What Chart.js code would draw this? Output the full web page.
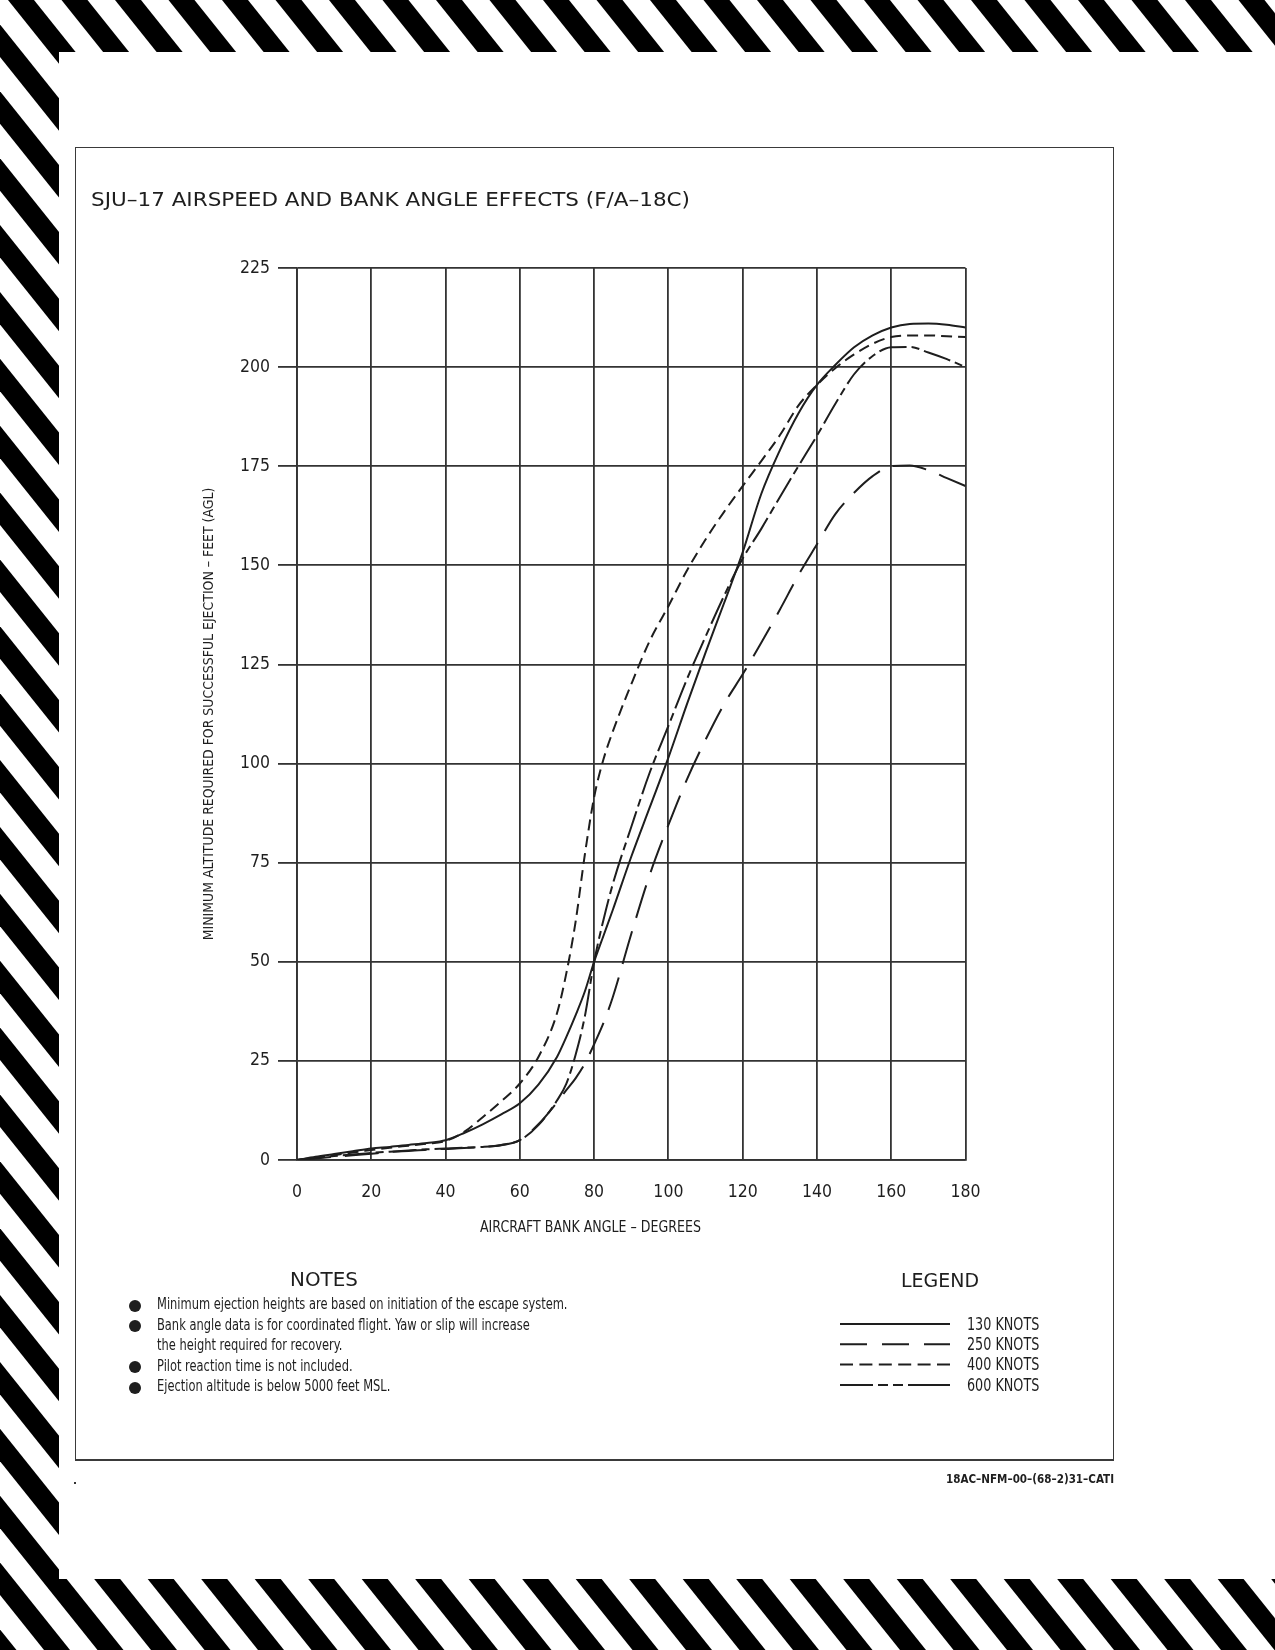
<!DOCTYPE html>
<html>
<head>
<meta charset="utf-8">
<script src="https://cdn.jsdelivr.net/npm/chart.js@4.4.1/dist/chart.umd.min.js"></script>
<style>
  html, body { margin:0; padding:0; background:#fff; }
  body { width:1275px; height:1650px; position:relative; overflow:hidden; }
  #bg { position:absolute; left:0; top:0; }
  #box { position:absolute; left:75px; top:147px; width:1039px; height:1314px; box-sizing:border-box;
         border:1.5px solid #3a3a3a; border-bottom-width:2.5px; }
  .t { position:absolute; white-space:nowrap; color:#1e1e1e; line-height:1; transform-origin:0 0; }
  #chart { position:absolute; left:180px; top:240px; }
  .bullet { position:absolute; width:12px; height:12px; border-radius:50%; background:#1e1e1e; }
  #legendSvg { position:absolute; left:0; top:0; }
</style>
</head>
<body>
<canvas id="bg" width="1275" height="1650"></canvas>
<div id="box"></div>

<div class="t" id="title" style="left:91px; top:190px; font-family:'DejaVu Sans',sans-serif; font-size:19px;">SJU–17 AIRSPEED AND BANK ANGLE EFFECTS (F/A–18C)</div>

<canvas id="chart" width="835" height="1010"></canvas>
<div class="t" id="xTitle" style="left:480px; top:1220px; font-size:15.5px;"></div>

<div class="t" id="notesHead" style="left:290px; top:1270px; font-family:'DejaVu Sans',sans-serif; font-size:19.5px;">NOTES</div>
<div class="t note" style="left:157px; top:1296px;">Minimum ejection heights are based on initiation of the escape system.</div>
<div class="t note" style="left:157px; top:1316.5px;">Bank angle data is for coordinated flight. Yaw or slip will increase</div>
<div class="t note" style="left:157px; top:1337px;">the height required for recovery.</div>
<div class="t note" style="left:157px; top:1357.5px;">Pilot reaction time is not included.</div>
<div class="t note" style="left:157px; top:1378px;">Ejection altitude is below 5000 feet MSL.</div>
<div class="bullet" style="left:129px; top:1299.5px;"></div>
<div class="bullet" style="left:129px; top:1320px;"></div>
<div class="bullet" style="left:129px; top:1361px;"></div>
<div class="bullet" style="left:129px; top:1381.5px;"></div>

<div class="t" id="legendHead" style="left:901px; top:1271px; font-family:'DejaVu Sans',sans-serif; font-size:19.5px;">LEGEND</div>
<svg id="legendSvg" width="1275" height="1650"></svg>
<div id="legendLabels"></div>

<div class="t" id="footer" style="left:946px; top:1472px; font-weight:bold; font-size:13px;">18AC–NFM–00–(68–2)31–CATI</div>
<div style="position:absolute; left:74px; top:1482px; width:2px; height:2px; background:#333;"></div>

<script>
// ---------------- DATA ----------------
const angles   = [0,5,10,15,20,25,30,35,40,45,50,55,60,65,70,72.5,75,77.5,80,82.5,85,90,95,100,105,110,115,120,125,130,135,140,145,150,155,160,165,170,175,180];
const knots130 = [0,0.8,1.5,2.2,2.9,3.3,3.8,4.3,5.0,6.8,9.0,11.5,14.3,19,26,31,36.5,42.5,50,56.5,63,76.5,89,101.5,115,128,140.5,153.3,168,179,188.3,195.5,200.6,205,208,210,210.9,211,210.7,210];
const knots250 = [0,0.4,0.8,1.2,1.6,2.0,2.3,2.6,2.8,3.0,3.3,3.7,5.0,9,14.5,17.6,20.6,24.3,29.2,34.5,41,57,72,84.5,96,106,115,122.5,130.5,138.8,147.5,155.3,163,168.3,172.5,175,175.2,174,172,170];
const knots400 = [0,0.6,1.2,1.9,2.5,3.1,3.6,4.1,4.8,7.1,10.8,14.8,19.3,26,37,47,60,77,91.5,101,108,120,131,139.7,148.7,156.5,163.5,170,176.3,182.8,190.3,195.5,199.8,203.2,205.9,207.6,208,208,207.8,207.6];
const knots600 = [0,0.5,1.0,1.4,1.8,2.1,2.4,2.7,2.9,3.1,3.3,3.8,5.0,8.8,15,19.2,26.5,36.2,50,60.5,69.5,84,97.8,109.5,121.3,132,142.3,151.7,159.2,167.2,175,182.7,190.8,198.2,202.8,205,205.1,203.7,202,200];
const seriesLabels = ['130 KNOTS','250 KNOTS','400 KNOTS','600 KNOTS'];
const xTickValues = [0,20,40,60,80,100,120,140,160,180];
const yTickValues = [0,25,50,75,100,125,150,175,200,225];
const xTitle = 'AIRCRAFT BANK ANGLE – DEGREES';
const yTitle = 'MINIMUM ALTITUDE REQUIRED FOR SUCCESSFUL EJECTION – FEET (AGL)';

// ---------------- STYLE ----------------
const INK = '#1e1e1e';
const chartDashes  = [[], [34,14], [11,6], [28,5,8,5]];
const legendDashes = ['', '27 15', '13 6.4', '33 5 10 5 10 5 42 0'];

function fontAvailable(name){
  const c = document.createElement('canvas').getContext('2d');
  const s = 'abcdefghijklmnopqrstuvwxyz0123456789MWKNOTS';
  let diff = false;
  for (const base of ['monospace','serif']) {
    c.font = '40px ' + base; const a = c.measureText(s).width;
    c.font = '40px "' + name + '", ' + base; const b = c.measureText(s).width;
    if (a !== b) diff = true;
  }
  return diff;
}
const narrow = ['Liberation Sans Narrow','DejaVu Sans Condensed','Arial Narrow','Roboto Condensed'].find(fontAvailable) || 'Liberation Sans';
const FAM = '"' + narrow + '", "Liberation Sans", sans-serif';

function sizeFor(text, target, weight){
  const c = document.createElement('canvas').getContext('2d');
  c.font = (weight||'normal') + ' 100px ' + FAM;
  return 100 * target / c.measureText(text).width;
}

// ---------------- BACKGROUND STRIPES ----------------
(function(){
  const g = document.getElementById('bg').getContext('2d');
  g.fillStyle = '#fff'; g.fillRect(0,0,1275,1650);
  g.fillStyle = '#000';
  const slope = 0.8, period = 53.5, bw = 26, yRef = 1580, xRef = 95;
  for (let k = -8; k < 60; k++) {
    const xa = xRef + k*period;
    const xt = xa + slope*(0 - yRef), xb = xa + slope*(1650 - yRef);
    g.beginPath(); g.moveTo(xt,0); g.lineTo(xt+bw,0); g.lineTo(xb+bw,1650); g.lineTo(xb,1650); g.closePath(); g.fill();
  }
  g.fillStyle = '#fff'; g.fillRect(59,52,1275-59,1579-52);
})();

// ---------------- TEXT FITTING ----------------
document.querySelectorAll('.note').forEach(e => { e.style.fontFamily = FAM; e.style.fontSize = '16.5px'; });
document.getElementById('footer').style.fontFamily = FAM;
const xt = document.getElementById('xTitle');
xt.textContent = xTitle; xt.style.fontFamily = FAM;
function fit(el, target){ const w = el.getBoundingClientRect().width; el.style.transform = 'scaleX(' + (target/w) + ')'; return target/w; }
fit(document.getElementById('title'), 599);
fit(document.getElementById('notesHead'), 68);
fit(document.getElementById('legendHead'), 78);
fit(document.getElementById('footer'), 168);
fit(xt, 221);
const notes = document.querySelectorAll('.note');
const nf = notes[0].getBoundingClientRect().width;
notes.forEach(e => { e.style.transform = 'scaleX(' + (410.5/nf) + ')'; });

// ---------------- LEGEND ----------------
(function(){
  const svg = document.getElementById('legendSvg');
  const ys = [1324, 1344.3, 1364.6, 1385];
  const holder = document.getElementById('legendLabels');
  let factor = null;
  seriesLabels.forEach((lab, i) => {
    const ln = document.createElementNS('http://www.w3.org/2000/svg','line');
    ln.setAttribute('x1', 840); ln.setAttribute('x2', 950);
    ln.setAttribute('y1', ys[i]); ln.setAttribute('y2', ys[i]);
    ln.setAttribute('stroke', INK); ln.setAttribute('stroke-width', 2);
    if (legendDashes[i]) ln.setAttribute('stroke-dasharray', legendDashes[i]);
    svg.appendChild(ln);
    const d = document.createElement('div');
    d.className = 't'; d.textContent = lab;
    d.style.left = '966.7px'; d.style.top = (ys[i] - 8.3) + 'px';
    d.style.fontFamily = FAM; d.style.fontSize = '17px';
    holder.appendChild(d);
    if (factor === null) factor = 72.3 / d.getBoundingClientRect().width;
    d.style.transform = 'scaleX(' + factor + ')';
  });
})();

// ---------------- CHART ----------------
const tickSize = 17.5;
const yTitleSize = sizeFor(yTitle, 453);

const seriesValues = [knots130, knots250, knots400, knots600];
const datasets = seriesValues.map((vals, i) => ({
  label: seriesLabels[i],
  data: angles.map((a, j) => ({x: a, y: vals[j]})),
  borderColor: INK,
  borderWidth: 2,
  borderDash: chartDashes[i],
  borderCapStyle: 'butt',
  pointRadius: 0,
  fill: false,
  cubicInterpolationMode: 'monotone'
}));

new Chart(document.getElementById('chart'), {
  type: 'line',
  data: { datasets },
  options: {
    responsive: false,
    animation: false,
    events: [],
    layout: { padding: { top: 28, right: 49.5, bottom: 0, left: 0 } },
    plugins: { legend: { display: false }, tooltip: { enabled: false }, title: { display: false } },
    scales: {
      x: {
        type: 'linear',
        min: xTickValues[0], max: xTickValues[xTickValues.length-1],
        afterBuildTicks: s => { s.ticks = xTickValues.map(v => ({value: v})); },
        afterFit: s => { s.height = 90; },
        grid: { color: '#333', lineWidth: 1.8, drawTicks: false },
        border: { display: true, color: '#333', width: 1.8 },
        ticks: { color: INK, padding: 22, font: { family: FAM, size: tickSize }, maxRotation: 0, autoSkip: false },
        title: { display: false }
      },
      y: {
        type: 'linear',
        min: yTickValues[0], max: yTickValues[yTickValues.length-1],
        afterBuildTicks: s => { s.ticks = yTickValues.map(v => ({value: v})); },
        afterFit: s => { s.width = 117; },
        grid: { color: '#333', lineWidth: 1.8, drawTicks: true, tickLength: 19 },
        border: { display: true, color: '#333', width: 1.8 },
        ticks: { color: INK, padding: 8, font: { family: FAM, size: tickSize }, autoSkip: false },
        title: { display: true, text: yTitle, color: INK, font: { family: FAM, size: yTitleSize }, padding: { top: 21, bottom: 0 } }
      }
    }
  }
});
</script>
</body>
</html>
